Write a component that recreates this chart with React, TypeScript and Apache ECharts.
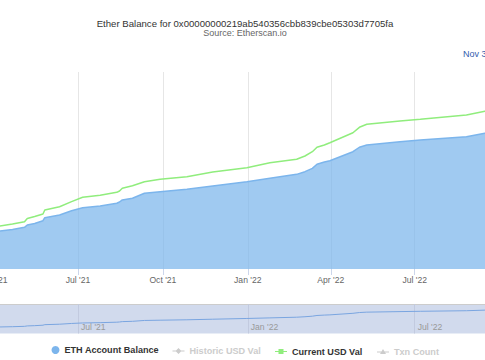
import React, { useEffect, useRef } from 'react';
import * as echarts from 'echarts';

// ---- data ----
const dates = [
  '2021-03-30', '2021-04-07', '2021-04-21', '2021-05-04', '2021-05-07', '2021-05-15',
  '2021-05-24', '2021-05-26', '2021-06-11', '2021-06-24', '2021-07-06', '2021-07-25',
  '2021-08-12', '2021-08-15', '2021-08-18', '2021-08-29', '2021-09-11', '2021-09-28',
  '2021-10-27', '2021-11-24', '2021-12-31', '2022-01-25', '2022-02-23', '2022-03-04',
  '2022-03-12', '2022-03-17', '2022-03-25', '2022-03-31', '2022-04-25', '2022-05-02',
  '2022-05-10', '2022-06-15', '2022-07-07', '2022-08-26', '2022-09-15', '2022-09-22',
];
// ETH account balance, millions of ETH
const ethBalanceM = [
  3.73, 3.86, 4.01, 4.23, 4.47, 4.62, 4.90, 5.21, 5.48, 5.92, 6.22, 6.40,
  6.67, 6.80, 7.01, 7.18, 7.69, 7.85, 8.09, 8.43, 8.86, 9.21, 9.61, 9.88,
  10.22, 10.63, 10.86, 10.99, 11.91, 12.36, 12.59, 12.92, 13.10, 13.43, 13.78, 13.86,
];
// Current USD value, billions of USD
const currentUsdB = [
  5.97, 6.11, 6.40, 6.72, 7.18, 7.46, 7.82, 8.39, 8.85, 9.57, 10.19, 10.48,
  10.90, 11.09, 11.47, 11.84, 12.41, 12.75, 13.12, 13.79, 14.40, 15.11, 15.59, 16.06,
  16.67, 17.30, 17.62, 17.95, 19.37, 20.14, 20.57, 21.04, 21.28, 21.89, 22.41, 22.53,
];
const axisTickDates = [
  '2021-01-01', '2021-04-01', '2021-07-01', '2021-10-01',
  '2022-01-01', '2022-04-01', '2022-07-01', '2022-10-01', '2023-01-01',
];
const axisLabelDates = [
  '2021-04-01', '2021-07-01', '2021-10-01', '2022-01-01', '2022-04-01', '2022-07-01',
];
const navTickDates = ['2021-01-01', '2021-07-01', '2022-01-01', '2022-07-01', '2023-01-01'];
const navLabelDates = ['2021-07-01', '2022-01-01', '2022-07-01'];
const MONTHS = ['Jan', 'Feb', 'Mar', 'Apr', 'May', 'Jun', 'Jul', 'Aug', 'Sep', 'Oct', 'Nov', 'Dec'];
const seriesNames = ['ETH Account Balance', 'Historic USD Val', 'Current USD Val', 'Txn Count'];
const titleText = 'Ether Balance for 0x00000000219ab540356cbb839cbe05303d7705fa';
const subtitleText = 'Source: Etherscan.io';
const fromDateText = 'Nov 3, 2020';
const rangeStart = '2020-10-16';
const rangeEnd = '2023-03-13';

const ts = (s: string) => {
  const [y, m, d] = s.split('-').map(Number);
  return Date.UTC(y, m - 1, d);
};
const fmt = (v: number) => {
  const d = new Date(v);
  return `${MONTHS[d.getUTCMonth()]} '${String(d.getUTCFullYear()).slice(2)}`;
};

const OFF = 160; // the reference is a crop of a wider chart
const W = 810;
const H = 360;
const FONT = '"Liberation Sans", Arial, Helvetica, sans-serif';

export default function App() {
  const ref = useRef<HTMLDivElement>(null);

  useEffect(() => {
    if (!ref.current) return;
    const chart = echarts.init(ref.current, undefined, { renderer: 'svg' });
    const ethData = dates.map((d, i) => [ts(d), ethBalanceM[i]]);
    const usdData = dates.map((d, i) => [ts(d), currentUsdB[i]]);
    const xMin = ts(rangeStart);
    const xMax = ts(rangeEnd);
    const legendText = { fontSize: 9.1, fontWeight: 'bold' as const, color: '#333333', fontFamily: FONT };

    chart.setOption({
      animation: false,
      textStyle: { fontFamily: FONT },
      title: [
        {
          text: titleText,
          subtext: subtitleText,
          left: OFF + 245,
          top: 18,
          textAlign: 'center',
          padding: 0,
          itemGap: 0,
          textStyle: { fontSize: 9.6, fontWeight: 'normal', color: '#333333', lineHeight: 10, fontFamily: FONT },
          subtextStyle: { fontSize: 9, color: '#666666', lineHeight: 10, fontFamily: FONT },
        },
        {
          text: fromDateText,
          left: OFF + 463,
          top: 49,
          padding: 0,
          textStyle: { fontSize: 9, fontWeight: 'normal', color: '#335cad', lineHeight: 10, fontFamily: FONT },
        },
      ],
      grid: [
        { left: 0, right: 0, top: 72, bottom: H - 269 },
        {
          left: 0, right: 0, top: 304, height: 29.5, show: true,
          backgroundColor: 'rgba(102,133,194,0.3)', borderWidth: 0,
        },
      ],
      xAxis: [
        {
          type: 'value', gridIndex: 0, min: xMin, max: xMax,
          axisLine: { show: false },
          axisTick: { show: true, customValues: axisTickDates.map(ts), length: 6, lineStyle: { color: '#ccd6eb' } },
          axisLabel: {
            customValues: axisLabelDates.map(ts), formatter: fmt,
            fontSize: 8.6, color: '#666666', margin: 6, fontFamily: FONT,
            showMinLabel: true, showMaxLabel: true,
          },
          splitLine: { show: true, lineStyle: { color: '#e6e6e6', width: 1 } },
        },
        {
          type: 'value', gridIndex: 1, min: xMin, max: xMax,
          axisLine: { show: false },
          axisTick: { show: false, customValues: navTickDates.map(ts) },
          axisLabel: {
            customValues: navLabelDates.map(ts), formatter: fmt, inside: true, align: 'left',
            padding: [0, 0, 0, 3], margin: 2, fontSize: 8.6, color: '#999999', fontFamily: FONT,
            showMinLabel: true, showMaxLabel: true,
          },
          splitLine: { show: true, lineStyle: { color: '#c2cadf', width: 1 } },
        },
      ],
      yAxis: [
        { type: 'value', gridIndex: 0, min: 0, max: 20, show: false },
        { type: 'value', gridIndex: 0, min: 0, max: 28, show: false },
        { type: 'value', gridIndex: 1, min: 0, max: 17.4, show: false },
      ],
      legend: [
        {
          data: [{ name: seriesNames[0], icon: 'circle' }],
          left: OFF + 51.5, top: 345.5, padding: 0, itemWidth: 8, itemHeight: 8,
          itemStyle: { borderWidth: 0 }, inactiveColor: '#cccccc', textStyle: legendText,
        },
        {
          data: [{ name: seriesNames[1], icon: 'path://M0,2.5H12V3.5H0Z M6,0L9,3L6,6L3,3Z' }],
          left: OFF + 172.5, top: 346.5, padding: 0, itemWidth: 12, itemHeight: 6,
          itemStyle: { borderWidth: 0 }, inactiveColor: '#cccccc', textStyle: legendText,
          selected: { [seriesNames[1]]: false },
        },
        {
          data: [{ name: seriesNames[2], icon: 'path://M0,2H12V3H0Z M3.5,0H8.5V5H3.5Z' }],
          left: OFF + 275, top: 347, padding: 0, itemWidth: 12, itemHeight: 5,
          itemStyle: { borderWidth: 0 }, inactiveColor: '#cccccc', textStyle: legendText,
        },
        {
          data: [{ name: seriesNames[3], icon: 'path://M0,2.5H12V3.5H0Z M6,0L9,5L3,5Z' }],
          left: OFF + 377, top: 347, padding: 0, itemWidth: 12, itemHeight: 5,
          itemStyle: { borderWidth: 0 }, inactiveColor: '#cccccc', textStyle: legendText,
          selected: { [seriesNames[3]]: false },
        },
      ],
      graphic: [
        {
          type: 'line', silent: true,
          shape: { x1: 0, y1: 304.5, x2: W, y2: 304.5 },
          style: { stroke: '#cccccc', lineWidth: 1 },
        },
      ],
      series: [
        {
          name: seriesNames[0], type: 'line', xAxisIndex: 0, yAxisIndex: 0, data: ethData,
          symbol: 'none', showSymbol: false, color: '#7cb5ec',
          lineStyle: { width: 1.5, color: '#7cb5ec' },
          areaStyle: { color: '#7cb5ec', opacity: 0.72 }, z: 2,
        },
        {
          name: seriesNames[1], type: 'line', xAxisIndex: 0, yAxisIndex: 1, data: [],
          symbol: 'none', color: '#434348',
        },
        {
          name: seriesNames[2], type: 'line', xAxisIndex: 0, yAxisIndex: 1, data: usdData,
          symbol: 'none', showSymbol: false, color: '#90ed7d',
          lineStyle: { width: 1.5, color: '#90ed7d' }, z: 3,
        },
        {
          name: seriesNames[3], type: 'line', xAxisIndex: 0, yAxisIndex: 1, data: [],
          symbol: 'none', color: '#f7a35c',
        },
        {
          name: 'navigator', type: 'line', xAxisIndex: 1, yAxisIndex: 2, data: ethData,
          symbol: 'none', showSymbol: false, color: '#7aa5e0', silent: true,
          lineStyle: { width: 1, color: '#7aa5e0' },
        },
      ],
    });
    return () => chart.dispose();
  }, []);

  return (
    <div style={{ position: 'fixed', left: 0, top: 0, width: 485, height: 360, overflow: 'hidden', background: '#ffffff' }}>
      <div ref={ref} style={{ position: 'absolute', left: -OFF, top: 0, width: W, height: H }} />
    </div>
  );
}
